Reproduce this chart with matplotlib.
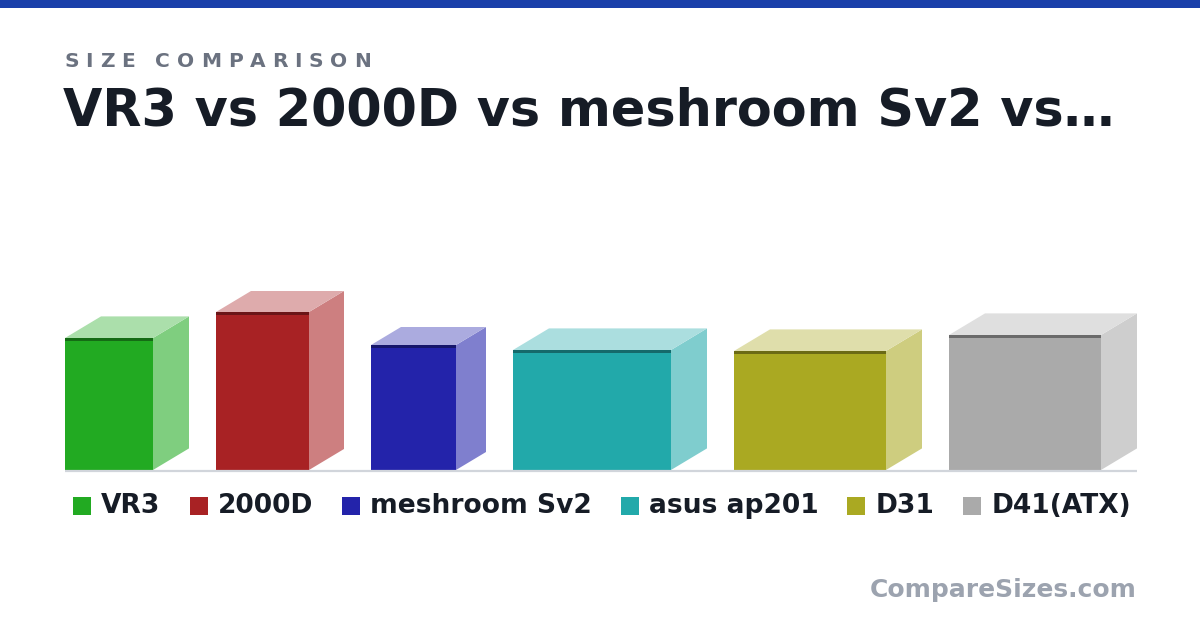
import matplotlib
matplotlib.use("Agg")
import matplotlib.pyplot as plt
from matplotlib.patches import Rectangle, Polygon
from matplotlib.colors import to_rgb

# Box sizes (front width, front height, depth)
names = ["VR3", "2000D", "meshroom Sv2", "asus ap201", "D31", "D41(ATX)"]
widths = [88, 93, 85, 158, 152, 152]
heights = [132, 158, 125, 120, 119, 135]
depths = [36, 35, 30, 36, 36, 36]
colors = ["#22aa22", "#a82224", "#2323aa", "#22a9aa", "#aaa922", "#aaaaaa"]

subtitle = "SIZE COMPARISON"
title = "VR3 vs 2000D vs meshroom Sv2 vs\u2026"
watermark = "CompareSizes.com"

W, H = 1200, 630
FONT = "DejaVu Sans"


def tint(c, amount):
    r, g, b = to_rgb(c)
    return (r + (1 - r) * amount, g + (1 - g) * amount, b + (1 - b) * amount)


def shade(c, f):
    r, g, b = to_rgb(c)
    return (r * f, g * f, b * f)


fig = plt.figure(figsize=(W / 100, H / 100), dpi=100)
ax = fig.add_axes([0, 0, 1, 1])
ax.set_xlim(0, W)
ax.set_ylim(H, 0)
ax.axis("off")
renderer = fig.canvas.get_renderer()


def text_width(t):
    bb = t.get_window_extent(renderer=renderer)
    return bb.width


# top band
ax.add_patch(Rectangle((0, 0), W, 8, color="#1a40aa", lw=0))

# spaced-out subtitle
x = 64
for ch in subtitle:
    t = ax.text(x, 67, ch, fontsize=14.5, fontweight="bold", color="#6b7280",
                family=FONT, va="baseline", ha="left")
    x += text_width(t) + 6.8

ax.text(63, 126, title, fontsize=36.6, fontweight="bold", color="#161c26",
        family=FONT, va="baseline", ha="left")

# boxes
base_y = 470
left = 65
gap = 27
x = left
for w, h, d, c in zip(widths, heights, depths, colors):
    dx, dy = d, d * 0.6
    top = base_y - h
    # side face
    ax.add_patch(Polygon([(x + w, base_y), (x + w + dx, base_y - dy),
                          (x + w + dx, top - dy), (x + w, top)],
                         closed=True, color=tint(c, 0.42), lw=0))
    # top face
    ax.add_patch(Polygon([(x, top), (x + dx, top - dy),
                          (x + w + dx, top - dy), (x + w, top)],
                         closed=True, color=tint(c, 0.62), lw=0))
    # front face
    ax.add_patch(Rectangle((x, top), w, h, color=c, lw=0))
    ax.add_patch(Rectangle((x, top), w, 3, color=shade(c, 0.63), lw=0))
    x += w + dx + gap
right = x - gap

ax.plot([left, right], [base_y + 1, base_y + 1], color="#d1d5db", lw=1.6,
        solid_capstyle="butt")

# legend, centred under the chart
LEG_FS = 19.1
items = []
total = 0
for n in names:
    t = ax.text(0, 0, n, fontsize=LEG_FS, fontweight="bold", family=FONT)
    tw = text_width(t)
    t.remove()
    items.append(tw)
    total += 18 + 10 + tw
total += 29 * (len(names) - 1)
x = (left + right) / 2 - total / 2 + 1
for n, tw, c in zip(names, items, colors):
    ax.add_patch(Rectangle((x, 497), 18, 18, color=c, lw=0))
    ax.text(x + 28, 513, n, fontsize=LEG_FS, fontweight="bold", color="#161c26",
            family=FONT, va="baseline", ha="left")
    x += 18 + 10 + tw + 29

ax.text(right, 597, watermark, fontsize=18, fontweight="bold", color="#9ca3af",
        family=FONT, va="baseline", ha="right")

fig.savefig("out.png", dpi=100)
